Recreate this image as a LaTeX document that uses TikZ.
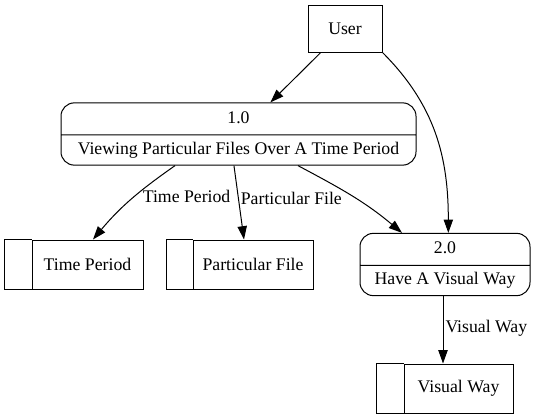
\documentclass[tikz,border=0pt]{standalone}
\usepackage{fontspec}
\setmainfont{Liberation Serif}
\usetikzlibrary{arrows.meta,shapes.multipart}

\tikzset{
  process/.style={draw, rectangle split, rectangle split parts=2, rounded corners=10pt,
    inner xsep=0pt, inner ysep=4.9pt, minimum width=#1,
    text height=10pt, text depth=3.5pt},
  entity/.style={draw, minimum width=55.5pt, minimum height=35.25pt},
  store/.style={draw, minimum width=#1, minimum height=36.75pt, inner sep=0pt},
  flow/.style={-{Triangle[length=10pt,width=7pt]}},
  flowlabel/.style={inner sep=1.5pt, anchor=west},
}

\begin{document}
\begin{tikzpicture}[x=0.75pt, y=0.75pt, line width=0.75pt, font=\fontsize{13.3}{16}\selectfont]
  \useasboundingbox (0,0) rectangle (537,419);

  % external entity and processes
  \node[entity] (user) at (345,390.5) {User};
  \node[process=266.25pt] (p1) at (238.5,285) {1.0 \nodepart{second} Viewing Particular Files Over A Time Period};
  \node[process=127.5pt] (p2) at (445,154.5) {2.0 \nodepart{second} Have A Visual Way};

  % data stores
  \node[store=83.25pt] (tp) at (87.5,154.5) {Time Period};
  \node[store=90pt] (pf) at (253,154.5) {Particular File};
  \node[store=81.75pt] (vw) at (458.5,30.5) {Visual Way};
  \foreach \n/\w in {tp/20.25pt, pf/19.5pt, vw/20.25pt}
    \draw (\n.north west) -- ++(-\w,0) |- (\n.south west);

  % data flows
  \draw[flow] (user) -- (p1);
  \draw[flow] (user.south east) to[out=-45,in=90] ([xshift=2.5pt]p2.north);
  \draw[flow] ([xshift=-47.6pt]p1.south) to[out=-145,in=50]
    node[flowlabel,pos=0.45,xshift=4pt] {Time Period} ([xshift=4.1pt]tp.north);
  \draw[flow] ([xshift=-3.4pt]p1.south) --
    node[flowlabel,pos=0.44] {Particular File} ([xshift=-6.75pt]pf.north);
  \draw[flow] ([xshift=44.6pt]p1.south) to[out=-28,in=140] ([xshift=-32.25pt]p2.north);
  \draw[flow] ([xshift=-1.5pt]p2.south) --
    node[flowlabel,pos=0.48] {Visual Way} ([xshift=-1.5pt]p2.south |- vw.north);
\end{tikzpicture}
\end{document}
